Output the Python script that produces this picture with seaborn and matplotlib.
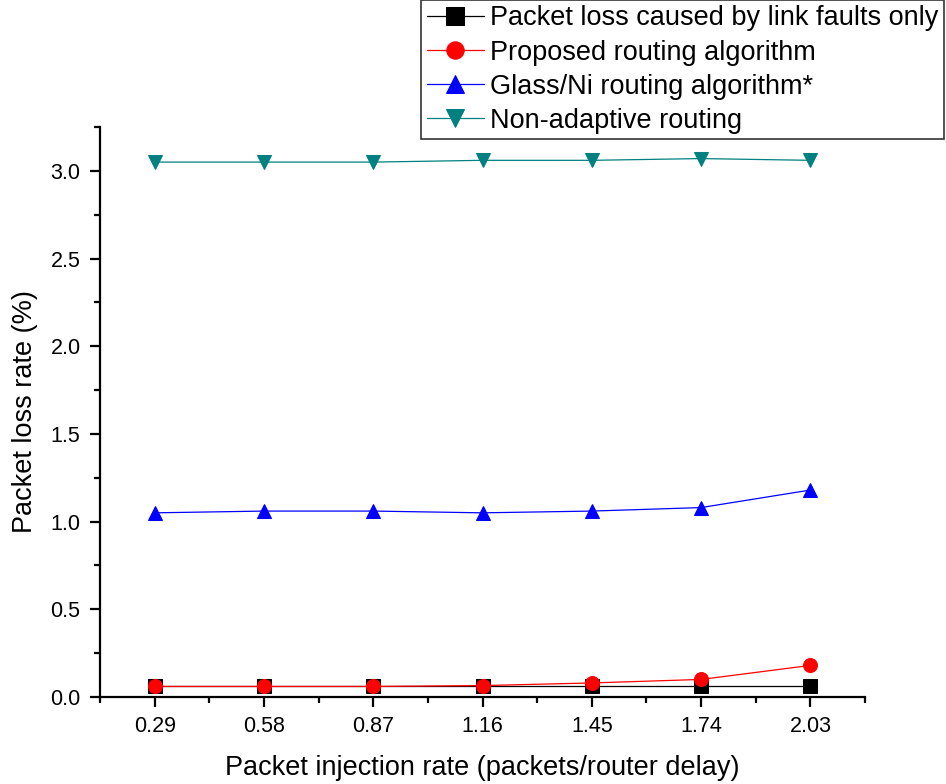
import matplotlib
matplotlib.use("Agg")
import matplotlib.pyplot as plt
import seaborn as sns
import pandas as pd
from matplotlib.ticker import MultipleLocator, FixedLocator

x_vals = [0.29, 0.58, 0.87, 1.16, 1.45, 1.74, 2.03]
link_faults = [0.06, 0.06, 0.06, 0.06, 0.06, 0.06, 0.06]
proposed = [0.06, 0.06, 0.06, 0.065, 0.08, 0.10, 0.18]
glass_ni = [1.05, 1.06, 1.06, 1.05, 1.06, 1.08, 1.18]
non_adaptive = [3.05, 3.05, 3.05, 3.06, 3.06, 3.07, 3.06]
names = ["Packet loss caused by link faults only", "Proposed routing algorithm",
         "Glass/Ni routing algorithm*", "Non-adaptive routing"]
colors = ["#000000", "#FF0000", "#0000FF", "#008080"]
markers = ["s", "o", "^", "v"]

sns.set_theme(style="white")
plt.rcParams['font.family'] = ['Liberation Sans', 'DejaVu Sans']
plt.rcParams['text.color'] = 'black'
plt.rcParams['axes.labelcolor'] = 'black'
plt.rcParams['xtick.color'] = 'black'
plt.rcParams['ytick.color'] = 'black'

rows = []
for n, ys in zip(names, [link_faults, proposed, glass_ni, non_adaptive]):
    for xv, yv in zip(x_vals, ys):
        rows.append({"x": xv, "y": yv, "series": n})
df = pd.DataFrame(rows)

fig = plt.figure(figsize=(9.46, 7.84), dpi=100)
ax = fig.add_axes([0.1057, 0.111, 0.8087, 0.727])

for n, c, m in zip(names, colors, markers):
    sub = df[df.series == n]
    sns.lineplot(data=sub, x="x", y="y", ax=ax, color=c, marker=m, markersize=10,
                 markeredgecolor=c, linewidth=0.9, label=n, legend=False)

ax.set_xlim(0.145, 2.175)
ax.set_ylim(0, 3.25)
ax.xaxis.set_major_locator(FixedLocator(x_vals))
ax.xaxis.set_minor_locator(FixedLocator([0.145 + 0.29 * i for i in range(8)]))
ax.set_xticklabels([f"{v:.2f}" for v in x_vals])
ax.yaxis.set_major_locator(MultipleLocator(0.5))
ax.yaxis.set_minor_locator(MultipleLocator(0.25))
ax.yaxis.set_major_formatter(matplotlib.ticker.FormatStrFormatter('%.1f'))

for s in ["top", "right"]:
    ax.spines[s].set_visible(False)
for s in ["left", "bottom"]:
    ax.spines[s].set_color("black")
    ax.spines[s].set_linewidth(1.6)
ax.tick_params(which="major", direction="out", length=7, width=1.6, color="black",
               labelcolor="black", labelsize=15.5, bottom=True, left=True, pad=7)
ax.tick_params(which="minor", direction="out", length=4, width=1.6, color="black",
               bottom=True, left=True)

ax.set_xlabel("Packet injection rate (packets/router delay)", fontsize=19.5,
              labelpad=13, color="black")
ax.set_ylabel("Packet loss rate (%)", fontsize=19.5, labelpad=9, color="black")

handles, labels = ax.get_legend_handles_labels()
leg = fig.legend(handles, labels, loc="upper right", bbox_to_anchor=(0.998, 1.0),
                 fontsize=19.5, frameon=True, fancybox=False, framealpha=1,
                 edgecolor="#333333", borderpad=0.2, labelspacing=0.3,
                 handlelength=2.1, handletextpad=0.25, borderaxespad=0,
                 markerscale=1.25)
leg.get_frame().set_linewidth(1.2)
for t in leg.get_texts():
    t.set_color("black")

fig.savefig("out.png", dpi=100)
